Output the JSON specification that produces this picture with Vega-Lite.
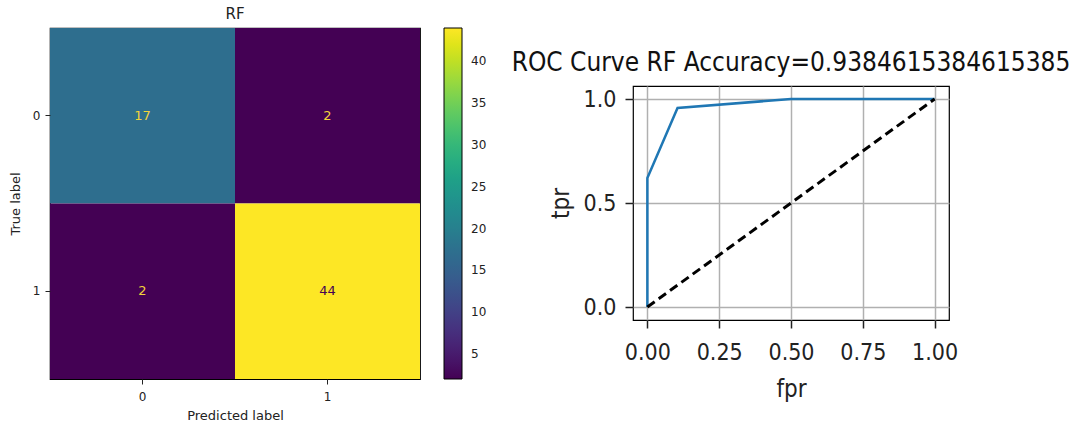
{
  "$schema": "https://vega.github.io/schema/vega-lite/v6.json",
  "background": "white",
  "padding": {"left": 8, "top": 6, "right": 0, "bottom": 0},
  "spacing": 23,
  "resolve": {"legend": {"color": "independent"}, "scale": {"color": "independent"}},
  "config": {"view": {"stroke": "black", "strokeWidth": 1.2}},
  "datasets": {
    "cm": [
      {"true": "0", "pred": "0", "count": 17},
      {"true": "0", "pred": "1", "count": 2},
      {"true": "1", "pred": "0", "count": 2},
      {"true": "1", "pred": "1", "count": 44}
    ],
    "roc": [
      {"fpr": 0, "tpr": 0},
      {"fpr": 0, "tpr": 0.62},
      {"fpr": 0.105, "tpr": 0.957},
      {"fpr": 0.5, "tpr": 1.0},
      {"fpr": 1.0, "tpr": 1.0}
    ],
    "diag": [
      {"fpr": 0, "tpr": 0},
      {"fpr": 1, "tpr": 1}
    ],
    "empty": []
  },
  "hconcat": [
    {
      "width": 370,
      "height": 351,
      "title": {"text": "RF", "font": "DejaVu Sans", "fontSize": 15, "fontWeight": "normal", "color": "#222", "offset": 6},
      "data": {"name": "cm"},
      "encoding": {
        "x": {"field": "pred", "type": "ordinal", "scale": {"paddingInner": 0, "paddingOuter": 0},
          "axis": {"title": "Predicted label", "labelAngle": 0, "labelFont": "DejaVu Sans", "labelFontSize": 12, "labelColor": "#222", "titleFont": "DejaVu Sans", "titleFontSize": 13, "titleFontWeight": "normal", "titleColor": "#222", "tickColor": "#222", "tickSize": 5, "domain": false, "labelPadding": 7, "titlePadding": 7}},
        "y": {"field": "true", "type": "ordinal", "scale": {"paddingInner": 0, "paddingOuter": 0},
          "axis": {"title": "True label", "labelAngle": 0, "labelFont": "DejaVu Sans", "labelFontSize": 12, "labelColor": "#222", "titleFont": "DejaVu Sans", "titleFontSize": 13, "titleFontWeight": "normal", "titleColor": "#222", "tickColor": "#222", "tickSize": 5, "domain": false, "labelPadding": 5, "titlePadding": 10}}
      },
      "layer": [
        {
          "mark": {"type": "rect"},
          "encoding": {
            "color": {"field": "count", "type": "quantitative",
              "scale": {"scheme": "viridis", "domain": [2, 44], "nice": false, "zero": false},
              "legend": {"title": null, "values": [5, 10, 15, 20, 25, 30, 35, 40], "gradientLength": 351, "gradientThickness": 18, "offset": 24, "gradientStrokeColor": "black", "gradientStrokeWidth": 1, "labelFont": "DejaVu Sans", "labelFontSize": 12, "labelColor": "#222", "labelOffset": 9}}
          }
        },
        {
          "transform": [{"filter": "datum.count < 23"}],
          "mark": {"type": "text", "font": "DejaVu Sans", "fontSize": 13, "color": "#f2d43a"},
          "encoding": {
            "text": {"field": "count", "type": "quantitative"}
          }
        },
        {
          "transform": [{"filter": "datum.count >= 23"}],
          "mark": {"type": "text", "font": "DejaVu Sans", "fontSize": 13, "color": "#440154"},
          "encoding": {
            "text": {"field": "count", "type": "quantitative"}
          }
        }
      ]
    },
    {
      "spacing": 20,
      "vconcat": [
        {
          "width": 316,
          "height": 1,
          "view": {"stroke": null},
          "data": {"name": "empty"},
          "mark": "point"
        },
        {
          "width": 316,
          "height": 234,
          "title": {"text": "ROC Curve RF Accuracy=0.9384615384615385", "font": "DejaVu Sans Condensed, sans-serif", "fontSize": 26, "fontWeight": "normal", "color": "#111", "offset": 10},
          "encoding": {
            "x": {"field": "fpr", "type": "quantitative", "scale": {"domain": [-0.05, 1.05], "nice": false, "zero": false},
              "axis": {"title": "fpr", "values": [0, 0.25, 0.5, 0.75, 1], "format": ".2f", "labelFont": "DejaVu Sans Condensed, sans-serif", "labelFontSize": 23, "labelColor": "#222", "titleFont": "DejaVu Sans Condensed, sans-serif", "titleFontSize": 24, "titleFontWeight": "normal", "titleColor": "#222", "tickColor": "#222", "tickSize": 8, "tickWidth": 1.5, "domain": false, "gridColor": "#b0b0b0", "gridWidth": 1.5, "labelPadding": 13, "titlePadding": 13}},
            "y": {"field": "tpr", "type": "quantitative", "scale": {"domain": [-0.0625, 1.0625], "nice": false, "zero": false},
              "axis": {"title": "tpr", "values": [0, 0.5, 1], "format": ".1f", "labelFont": "DejaVu Sans Condensed, sans-serif", "labelFontSize": 23, "labelColor": "#222", "titleFont": "DejaVu Sans Condensed, sans-serif", "titleFontSize": 24, "titleFontWeight": "normal", "titleColor": "#222", "tickColor": "#222", "tickSize": 8, "tickWidth": 1.5, "domain": false, "gridColor": "#b0b0b0", "gridWidth": 1.5, "labelPadding": 9, "titlePadding": 10}}
          },
          "layer": [
            {
              "data": {"name": "roc"},
              "mark": {"type": "line", "color": "#1f77b4", "strokeWidth": 2.5}
            },
            {
              "data": {"name": "diag"},
              "mark": {"type": "line", "color": "black", "strokeWidth": 3, "strokeDash": [9, 5]}
            }
          ]
        }
      ]
    }
  ]
}
